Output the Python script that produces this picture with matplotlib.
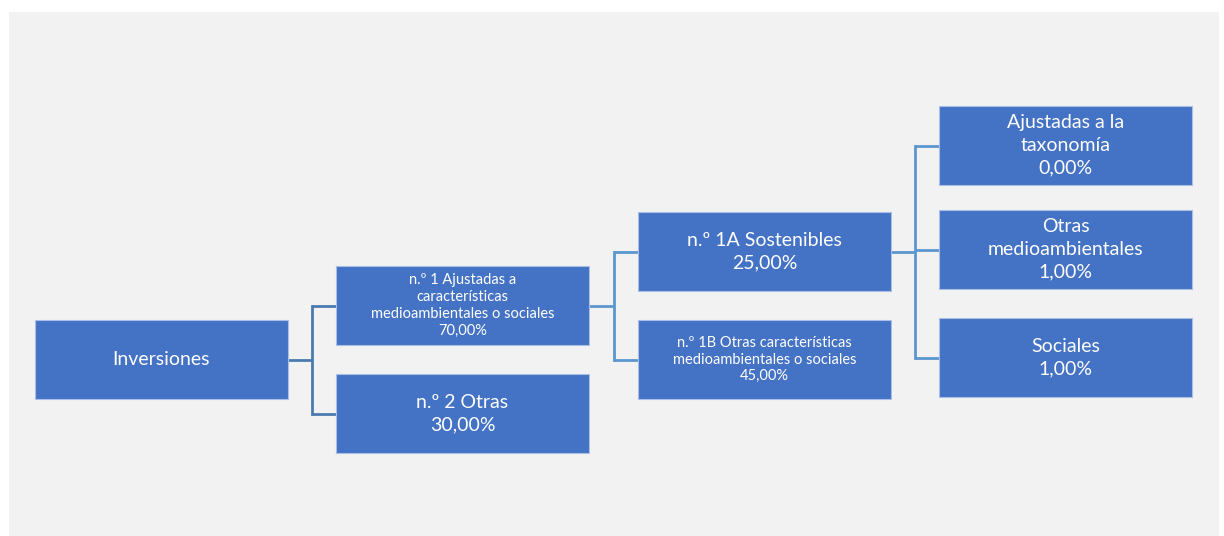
import matplotlib.pyplot as plt
from matplotlib.patches import Rectangle

# tree data
labels = [
    "Inversiones",
    "n.º 1 Ajustadas a\ncaracterísticas\nmedioambientales o sociales",
    "n.º 2 Otras",
    "n.º 1A Sostenibles",
    "n.º 1B Otras características\nmedioambientales o sociales",
    "Ajustadas a la\ntaxonomía",
    "Otras\nmedioambientales",
    "Sociales",
]
values = [None, 70.0, 30.0, 25.0, 45.0, 0.0, 1.0, 1.0]
parents = [None, 0, 0, 1, 1, 3, 3, 3]

# layout (pixels): left, top of each box
box_left = [35, 336, 336, 638, 638, 939, 939, 939]
box_top = [320, 266, 374, 212, 320, 106, 210, 318]
small_text = [False, True, False, False, True, False, False, False]
BOX_W, BOX_H = 253, 79
W, H = 1224, 536

BOX_COLOR = "#4472c4"
LINE_COLORS = {0: "#4a7bb0", 1: "#5b96cf", 3: "#5b96cf"}


def fmt(v):
    return f"{v:.2f}".replace(".", ",") + "%"


fig = plt.figure(figsize=(W / 100, H / 100), dpi=100)
ax = fig.add_axes([0, 0, 1, 1])
ax.set_xlim(0, W)
ax.set_ylim(H, 0)
ax.axis("off")
fig.patch.set_facecolor("white")

# grey panel
ax.add_patch(Rectangle((9, 12), 1210, 530, facecolor="#f2f2f2", edgecolor="none", zorder=0))

# connectors
for p in sorted(set(x for x in parents if x is not None)):
    kids = [i for i, q in enumerate(parents) if q == p]
    px = box_left[p] + BOX_W
    py = box_top[p] + BOX_H / 2
    cx = box_left[kids[0]]
    mx = (px + cx) / 2
    ys = [box_top[k] + BOX_H / 2 for k in kids]
    col = LINE_COLORS[p]
    ax.plot([px, mx], [py, py], color=col, lw=2, zorder=1, solid_capstyle="butt")
    ax.plot([mx, mx], [min(ys), max(ys)], color=col, lw=2, zorder=1, solid_capstyle="projecting")
    for y in ys:
        ax.plot([mx, cx], [y, y], color=col, lw=2, zorder=1, solid_capstyle="butt")

# boxes
for i, lab in enumerate(labels):
    ax.add_patch(Rectangle((box_left[i], box_top[i]), BOX_W, BOX_H,
                           facecolor=BOX_COLOR, edgecolor="#a9bfe6", lw=0.8, zorder=2))
    txt = lab if values[i] is None else lab + "\n" + fmt(values[i])
    size = 10.5 if small_text[i] else 14
    spacing = 1.25 if small_text[i] else 1.4
    ax.text(box_left[i] + BOX_W / 2, box_top[i] + BOX_H / 2, txt,
            ha="center", va="center", color="white", fontsize=size,
            family=["Lato", "DejaVu Sans"], linespacing=spacing, zorder=3)

fig.savefig("out.png", dpi=100)
